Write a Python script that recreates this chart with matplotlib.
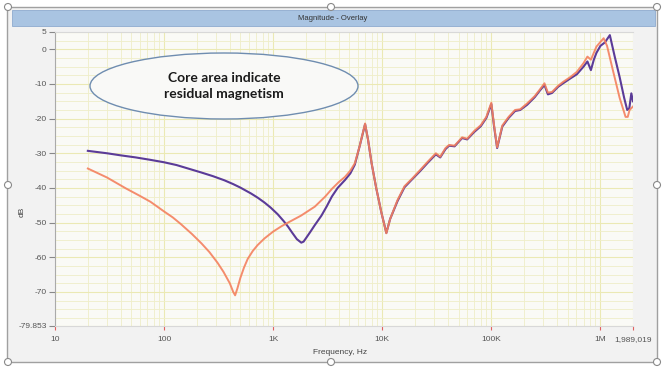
import numpy as np
import matplotlib.pyplot as plt
from matplotlib.patches import Rectangle, Ellipse
from matplotlib.ticker import FixedLocator, NullFormatter

# reference trace (orange) - frequency in Hz, magnitude in dB
ref_freq = [20, 30, 45, 60, 75, 100, 120, 142, 180, 220, 260, 309, 350, 400, 430, 448, 470,
            500, 540, 584, 650, 720, 831, 1000, 1200, 1370, 1800, 2410, 3000, 3450,
            4000, 4560, 5100, 5600, 6200, 6960, 7400, 8000, 8800, 9800, 10900, 11800,
            13800, 16000, 18800, 22000, 26000, 31000, 34000, 38000, 41000, 46000,
            54000, 60000, 70000, 80000, 90000, 100000, 106000, 113000, 126000, 144000,
            165000, 184000, 213000, 250000, 280000, 307000, 330000, 360000, 410000,
            455000, 530000, 608000, 700000, 760000, 818000, 920000, 1070000, 1150000,
            1300000, 1500000, 1700000, 1780000, 1850000, 1989019]
ref_db = [-34.4, -37, -40.2, -42.3, -44, -46.8, -48.5, -50.4, -53.3, -56, -58.5, -61.6, -64.2,
          -67.5, -70, -71, -69, -66, -63, -60.5, -58.2, -56.5, -54.6, -52.6, -51, -50,
          -48, -45.4, -42.5, -40.3, -38.3, -36.8, -35, -32.9, -28, -21.4, -26, -33, -40,
          -47, -53.1, -49, -43.5, -39.5, -37.3, -35, -32.5, -30, -31, -28.5, -27.6,
          -27.8, -25.4, -25.8, -23.5, -21.9, -19.5, -15.4, -22, -28.3, -22, -19.5,
          -17.5, -17.3, -15.6, -13.5, -11.5, -9.8, -12.5, -12.3, -10.5, -9.4, -8, -6.5,
          -4, -2.1, -3, 0.8, 3.2, 1, -6, -14, -19.5, -19.5, -17.5, -16.5]

# measured trace (purple)
meas_freq = [20, 30, 40, 55, 75, 100, 130, 170, 217, 280, 357, 430, 500, 626, 720, 831,
             950, 1100, 1250, 1370, 1500, 1650, 1810, 1900, 2000, 2200, 2400, 2770, 3100,
             3450, 3900, 4560, 5100, 5600, 6200, 6960, 7400, 8000, 8800, 9800, 10900,
             11800, 13800, 16000, 18800, 22000, 26000, 31000, 34000, 38000, 41000,
             46000, 54000, 60000, 70000, 80000, 90000, 100000, 106000, 113000, 126000,
             144000, 165000, 184000, 213000, 250000, 280000, 307000, 330000, 360000,
             410000, 455000, 530000, 608000, 700000, 760000, 818000, 870000, 920000,
             1000000, 1100000, 1220000, 1350000, 1500000, 1650000, 1760000, 1840000,
             1920000, 1989019]
meas_db = [-29.3, -30, -30.6, -31.2, -31.9, -32.6, -33.4, -34.5, -35.5, -36.6, -37.8,
           -38.9, -39.9, -41.6, -42.8, -44.2, -45.7, -47.6, -49.6, -51.2, -53, -54.8,
           -55.8, -55.5, -54.5, -52.6, -50.8, -48, -45.3, -42.5, -40, -37.7, -35.8,
           -33.3, -28, -21.6, -26, -33, -40, -47, -53, -49, -43.8, -39.8, -37.5, -35.3,
           -32.8, -30.3, -31.2, -28.8, -27.8, -28, -25.6, -26, -23.8, -22.2, -19.8,
           -15.8, -22.3, -28.5, -22.3, -19.8, -17.8, -17.5, -16, -13.8, -11.8, -10.3,
           -13, -12.6, -10.8, -9.8, -8.4, -7.2, -5, -3.5, -6, -3, -1, 1, 2, 4.1, -2,
           -8, -14, -17.5, -17, -12.7, -15]

x_ticks = [10, 100, 1e3, 1e4, 1e5, 1e6, 1989019]
x_labels = ['10', '100', '1K', '10K', '100K', '1M', '1,989,019']
y_ticks = [5, 0, -10, -20, -30, -40, -50, -60, -70, -79.853]
y_labels = ['5', '0', '-10', '-20', '-30', '-40', '-50', '-60', '-70', '-79.853']

W, H = 662, 371
fig = plt.figure(figsize=(W / 100, H / 100), dpi=100)
fig.patch.set_facecolor('white')

def fx(px):
    return px / W

def fy(py):
    return 1 - py / H

# window frame and title bar
fig.patches.append(Rectangle((fx(7), fy(362)), fx(650), 355 / H, transform=fig.transFigure,
                             facecolor='#f2f2f2', edgecolor='#a0a0a0', lw=1.0, zorder=-5))
fig.patches.append(Rectangle((fx(12), fy(26)), fx(643), 16 / H, transform=fig.transFigure,
                             facecolor='#a9c4e2', edgecolor='#8eabcf', lw=0.6, zorder=1))
fig.text(fx(333), fy(18), 'Magnitude - Overlay', ha='center', va='center',
         fontsize=5.5, color='#333333', family='Liberation Sans')

for hx, hy in [(8, 7), (331, 7), (657, 7), (8, 185), (657, 185), (8, 362), (331, 362), (657, 362)]:
    fig.patches.append(Ellipse((fx(hx), fy(hy)), 7 / W, 7 / H, transform=fig.transFigure,
                               facecolor='white', edgecolor='#8a8a8a', lw=0.8, zorder=5))

ax = fig.add_axes([fx(55), fy(326), fx(578), 294 / H])
ax.set_zorder(2)
ax.set_facecolor('#fafaf6')
ax.set_xscale('log')
ax.set_xlim(10, 1989019)
ax.set_ylim(-79.853, 5)

# grid
ax.xaxis.set_minor_locator(FixedLocator([m * 10 ** d for d in range(1, 7) for m in range(2, 10)]))
ax.yaxis.set_minor_locator(FixedLocator(np.arange(-77.5, 5, 2.5)))
ax.xaxis.set_minor_formatter(NullFormatter())
ax.grid(which='major', color='#ebe9b4', lw=0.8)
ax.grid(which='minor', color='#efeec8', lw=0.6)
ax.tick_params(which='minor', length=0)

ax.plot(meas_freq, meas_db, color='#5b3b98', lw=1.5, zorder=3)
ax.plot(ref_freq, ref_db, color='#f4805e', lw=1.4, alpha=0.9, zorder=4)

ax.set_xticks(x_ticks)
ax.set_xticklabels(x_labels)
ax.set_yticks(y_ticks)
ax.set_yticklabels(y_labels)
ax.tick_params(axis='x', which='major', length=3, color='#e06060', labelsize=6, labelcolor='#555555', pad=4)
ax.tick_params(axis='y', which='major', length=4, color='#888888', labelsize=6, labelcolor='#555555', pad=2)
for lab in ax.get_xticklabels() + ax.get_yticklabels():
    lab.set_family('Liberation Sans')

ax.spines['right'].set_visible(False)
ax.spines['top'].set_color('#d8d8d8')
ax.spines['left'].set_color('#aaaaaa')
ax.spines['bottom'].set_color('#d8d8d8')

fig.text(fx(340), fy(352), 'Frequency, Hz', ha='center', va='center', fontsize=6,
         color='#444444', family='Liberation Sans')
fig.text(fx(22), fy(212), 'dB', ha='center', va='center', rotation=90, fontsize=6,
         color='#444444', family='Liberation Sans')

# annotation
fig.patches.append(Ellipse((fx(224), fy(86)), 268 / W, 66 / H, transform=fig.transFigure,
                           facecolor='#f9f9f7', edgecolor='#6f8db0', lw=1.0, zorder=6))
fig.text(fx(224), fy(86), 'Core area indicate\nresidual magnetism', ha='center', va='center',
         fontsize=10, fontweight='bold', color='#1a1a1a', family='Lato', linespacing=1.3, zorder=7)

fig.savefig('out.png', dpi=100)
